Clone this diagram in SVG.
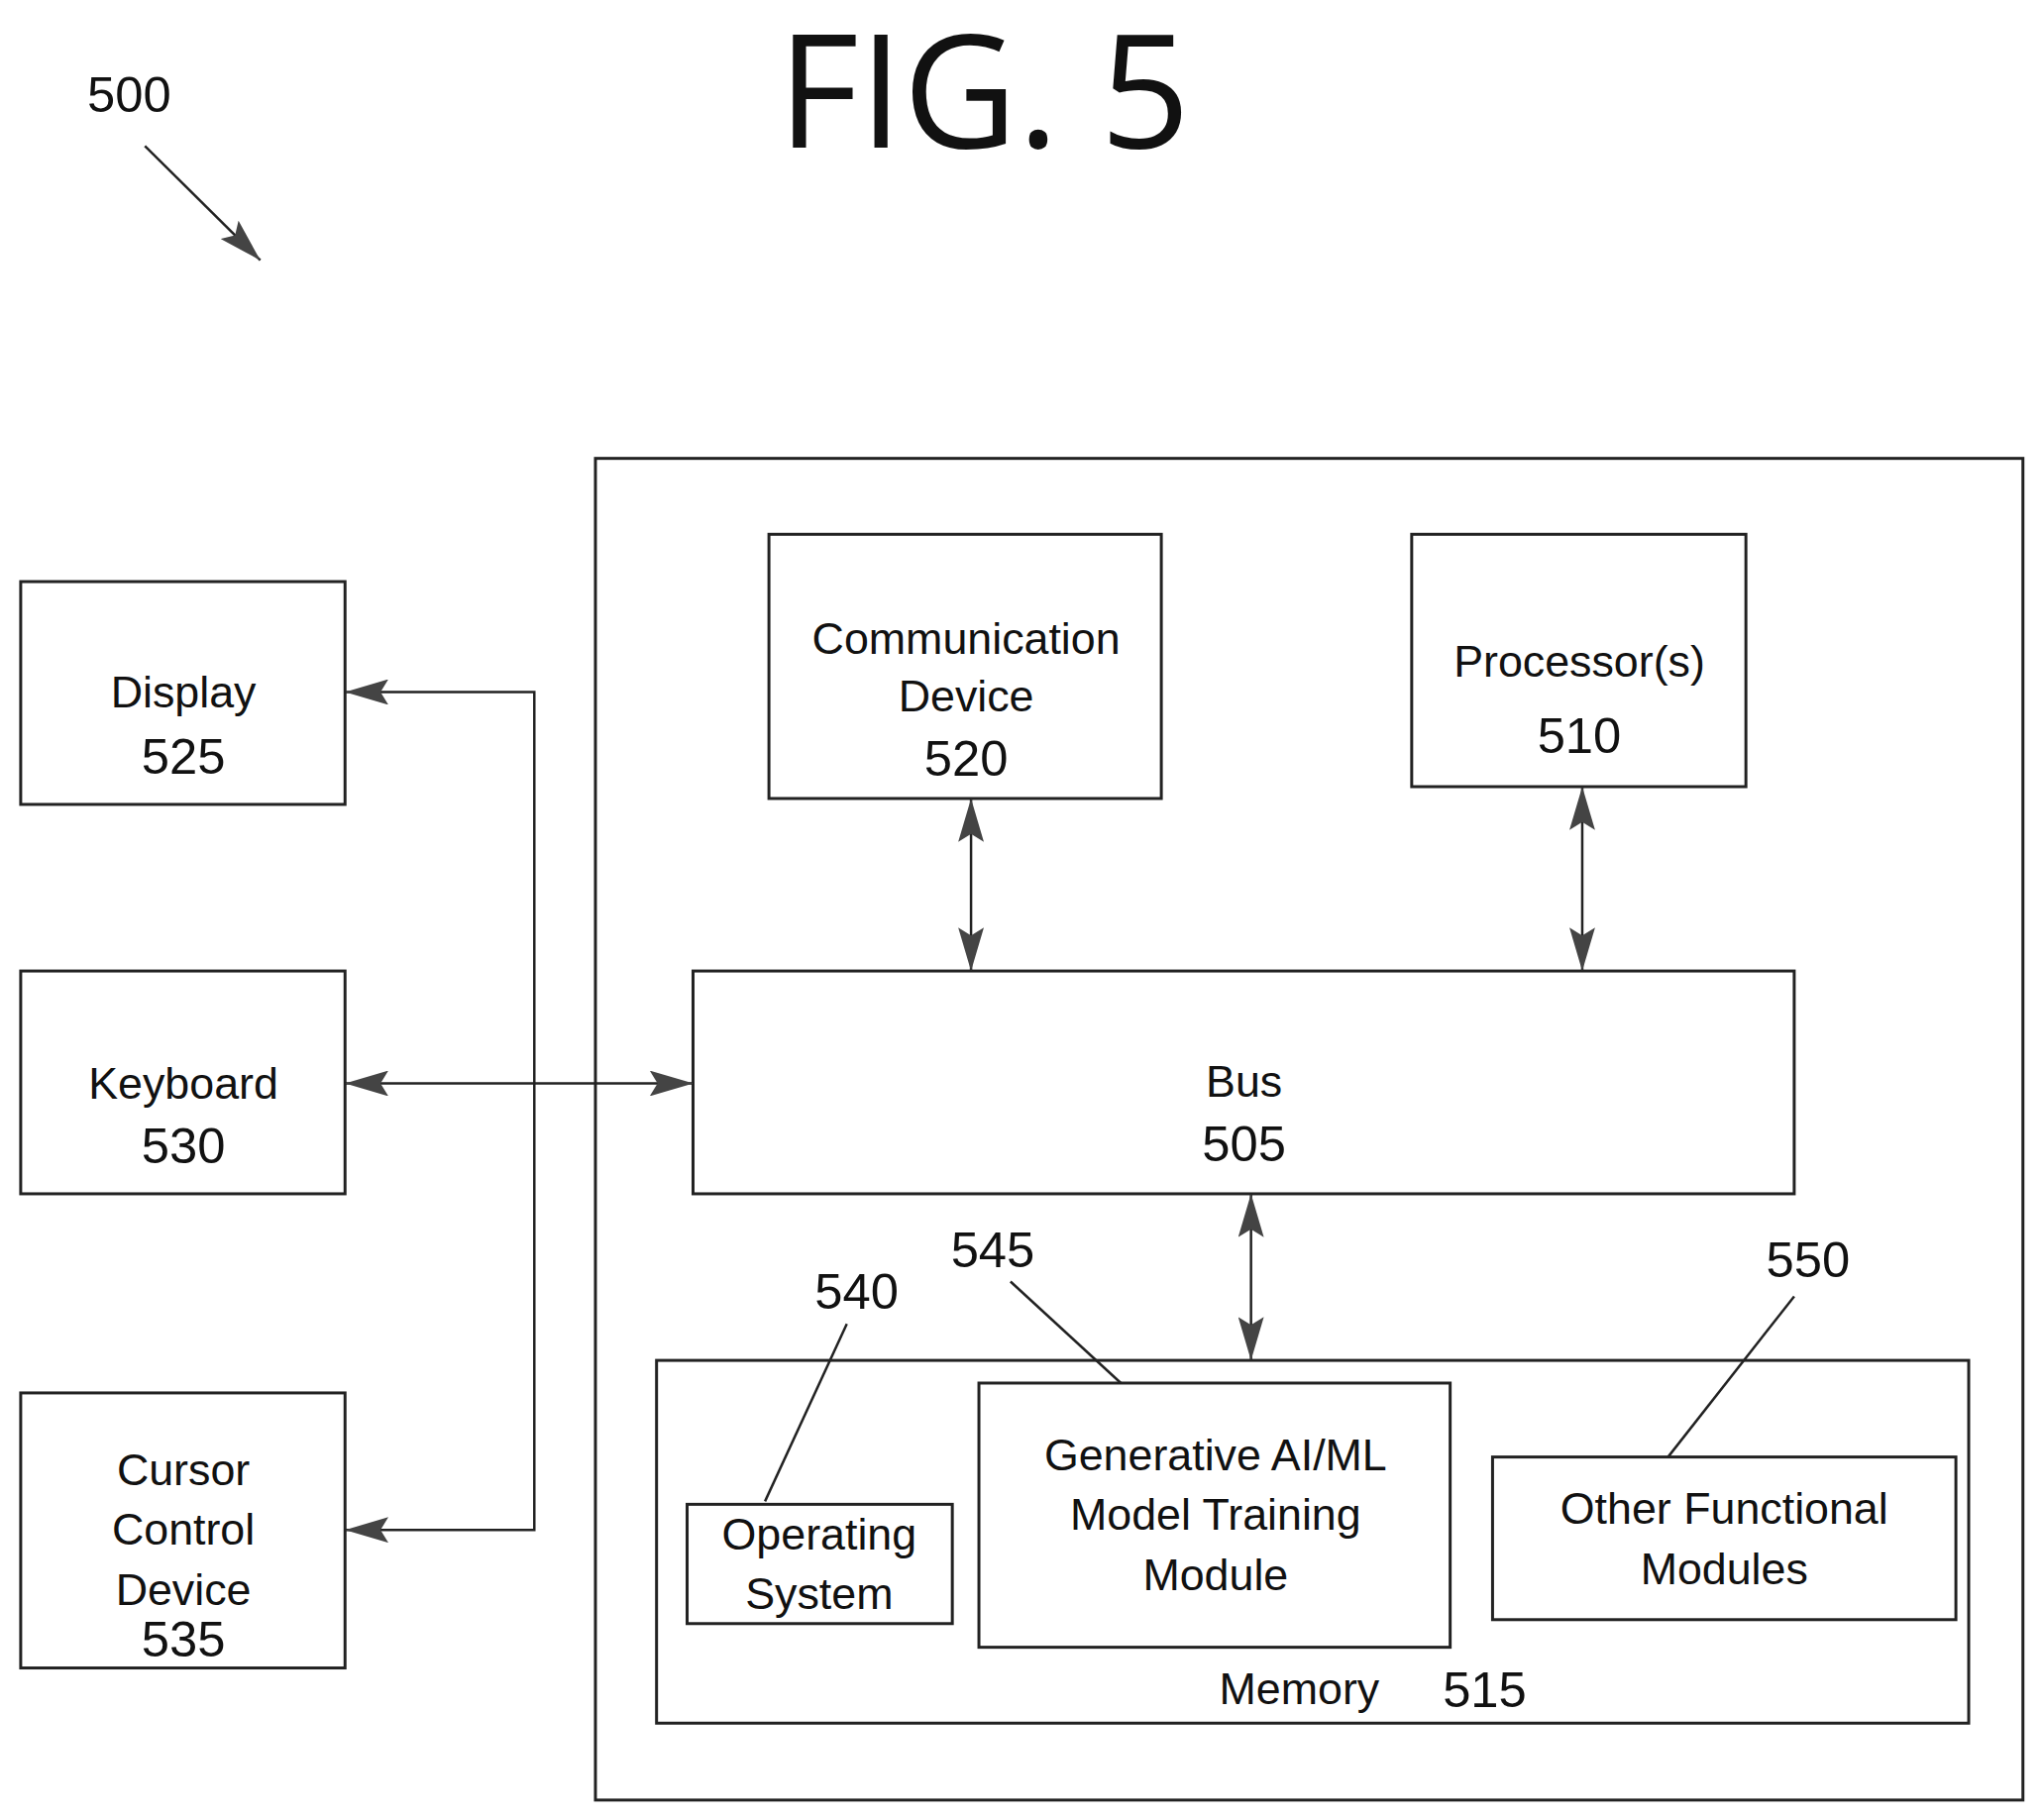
<svg xmlns="http://www.w3.org/2000/svg" width="2062" height="1837" viewBox="0 0 2062 1837">
<style>
.b{fill:none;stroke:#222;stroke-width:3}
.c{fill:none;stroke:#222;stroke-width:2.5}
text{font-family:"Liberation Sans",Arial,sans-serif;fill:#111;text-anchor:middle}
.t{font-size:45px}
.n{font-size:51px}
</style>
<defs>
<marker id="a2" viewBox="0 0 44 26" refX="44" refY="13" markerWidth="44" markerHeight="26" markerUnits="userSpaceOnUse" orient="auto-start-reverse"><path d="M0,0 L44,13 L0,26 L8,13 Z" fill="#444"/></marker>
</defs>
<g transform="scale(0.995)">
<text x="998" y="150" style="font-family:'Open Sans',sans-serif;font-size:160px">FIG. 5</text>
<text x="131" y="114" class="n">500</text>
<g id="container"><rect class="b" x="604" y="465" width="1448" height="1361"/></g>
<g id="display"><rect class="b" x="21" y="590" width="329" height="226"/><text x="186" y="718" class="t">Display</text><text x="186" y="785" class="n">525</text></g>
<g id="keyboard"><rect class="b" x="21" y="985" width="329" height="226"/><text x="186" y="1115" class="t">Keyboard</text><text x="186" y="1180" class="n">530</text></g>
<g id="cursor"><rect class="b" x="21" y="1413" width="329" height="279"/><text x="186" y="1507" class="t">Cursor</text><text x="186" y="1567" class="t">Control</text><text x="186" y="1628" class="t">Device</text><text x="186" y="1680" class="n">535</text></g>
<g id="comm"><rect class="b" x="780" y="542" width="398" height="268"/><text x="980" y="663" class="t">Communication</text><text x="980" y="722" class="t">Device</text><text x="980" y="787" class="n">520</text></g>
<g id="proc"><rect class="b" x="1432" y="542" width="339" height="256"/><text x="1602" y="686" class="t">Processor(s)</text><text x="1602" y="764" class="n">510</text></g>
<g id="bus"><rect class="b" x="703" y="985" width="1117" height="226"/><text x="1262" y="1113" class="t">Bus</text><text x="1262" y="1178" class="n">505</text></g>
<g id="memory"><rect class="b" x="666" y="1380" width="1331" height="368"/><text x="1318" y="1729" class="t">Memory</text><text x="1506" y="1732" class="n">515</text></g>
<g id="os"><rect class="b" x="697" y="1526" width="269" height="121"/><text x="831" y="1572" class="t">Operating</text><text x="831" y="1632" class="t">System</text></g>
<g id="genai"><rect class="b" x="993" y="1403" width="478" height="268"/><text x="1233" y="1491" class="t">Generative AI/ML</text><text x="1233" y="1552" class="t">Model Training</text><text x="1233" y="1613" class="t">Module</text></g>
<g id="other"><rect class="b" x="1514" y="1478" width="470" height="165"/><text x="1749" y="1546" class="t">Other Functional</text><text x="1749" y="1607" class="t">Modules</text></g>
<text x="869" y="1328" class="n">540</text>
<text x="1007" y="1285" class="n">545</text>
<text x="1834" y="1295" class="n">550</text>
<g id="connectors">
<line class="c" x1="147" y1="148" x2="264" y2="264" marker-end="url(#a2)"/>
<polyline class="c" points="350,702 542,702 542,1552 350,1552" marker-start="url(#a2)" marker-end="url(#a2)"/>
<line class="c" x1="350" y1="1099" x2="703" y2="1099" marker-start="url(#a2)" marker-end="url(#a2)"/>
<line class="c" x1="985" y1="810" x2="985" y2="985" marker-start="url(#a2)" marker-end="url(#a2)"/>
<line class="c" x1="1605" y1="798" x2="1605" y2="985" marker-start="url(#a2)" marker-end="url(#a2)"/>
<line class="c" x1="1269" y1="1211" x2="1269" y2="1380" marker-start="url(#a2)" marker-end="url(#a2)"/>
<line class="c" x1="859" y1="1343" x2="776" y2="1523"/>
<line class="c" x1="1025" y1="1300" x2="1137" y2="1403"/>
<line class="c" x1="1820" y1="1315" x2="1692" y2="1478"/>
</g>
</g>
</svg>
